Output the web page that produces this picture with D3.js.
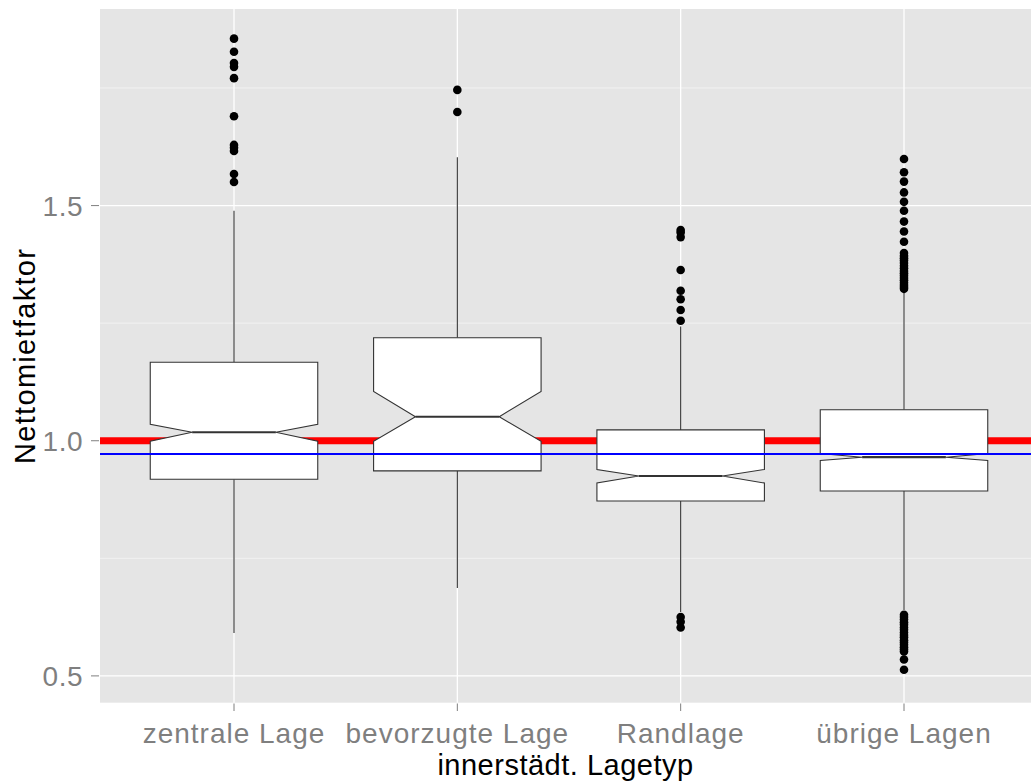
<!DOCTYPE html>
<html>
<head>
<meta charset="utf-8">
<script src="https://cdn.jsdelivr.net/npm/d3@7"></script>
<style>
  body { margin: 0; background: #fff; }
  text { font-family: "Liberation Sans", Arial, sans-serif; }
</style>
</head>
<body>
<svg id="chart" width="1031" height="782"></svg>
<script>
// categories and box statistics
const categories = ["zentrale Lage", "bevorzugte Lage", "Randlage", "übrige Lagen"];
const whiskerLow  = [0.591, 0.687, 0.636, 0.640];
const q1          = [0.918, 0.936, 0.872, 0.893];
const notchLow    = [0.999, 0.999, 0.910, 0.958];
const median      = [1.018, 1.051, 0.925, 0.965];
const notchHigh   = [1.035, 1.105, 0.939, 0.973];
const q3          = [1.167, 1.219, 1.023, 1.066];
const whiskerHigh = [1.489, 1.603, 1.243, 1.318];
const outliers = [
  [1.855, 1.827, 1.803, 1.795, 1.771, 1.690, 1.629, 1.623, 1.616, 1.567, 1.550],
  [1.746, 1.699],
  [1.448, 1.443, 1.433, 1.363, 1.319, 1.301, 1.278, 1.255, 0.625, 0.615, 0.603],
  [1.599, 1.571, 1.551, 1.528, 1.508, 1.489, 1.466, 1.445, 1.423, 1.399,
   1.393, 1.388, 1.383, 1.378, 1.372, 1.367, 1.361, 1.356, 1.351, 1.346,
   1.341, 1.336, 1.331, 1.327, 1.323,
   0.630, 0.625, 0.620, 0.614, 0.609, 0.603, 0.598, 0.592, 0.587, 0.582,
   0.576, 0.571, 0.566, 0.561, 0.556, 0.552, 0.535, 0.513]
];
const yTicks = [0.5, 1.0, 1.5];
const yMinor = [0.75, 1.25, 1.75];
const refLine = 1.0;
const meanLine = 0.972;

const svg = d3.select("#chart");
const panel = { left: 100, right: 1038, top: 9, bottom: 702.7 };

const x = d3.scalePoint()
  .domain(categories)
  .range([panel.left, panel.right])
  .padding(0.6);

const y = d3.scaleLinear()
  .domain([0.443, 1.918])
  .range([panel.bottom, panel.top]);

const boxW = x.step() * 0.75;

// panel background
svg.append("rect")
  .attr("x", panel.left).attr("y", panel.top)
  .attr("width", panel.right - panel.left)
  .attr("height", panel.bottom - panel.top)
  .attr("fill", "#e5e5e5");

// minor grid
svg.append("g").selectAll("line")
  .data(yMinor)
  .join("line")
  .attr("x1", panel.left).attr("x2", panel.right)
  .attr("y1", d => y(d)).attr("y2", d => y(d))
  .attr("stroke", "#f2f2f2").attr("stroke-width", 1);

// major grid
svg.append("g").selectAll("line")
  .data(yTicks)
  .join("line")
  .attr("x1", panel.left).attr("x2", panel.right)
  .attr("y1", d => y(d)).attr("y2", d => y(d))
  .attr("stroke", "#fff").attr("stroke-width", 1.3);

svg.append("g").selectAll("line")
  .data(categories)
  .join("line")
  .attr("x1", d => x(d)).attr("x2", d => x(d))
  .attr("y1", panel.top).attr("y2", panel.bottom)
  .attr("stroke", "#fff").attr("stroke-width", 1.3);

// red reference line (behind the boxes)
svg.append("line")
  .attr("x1", panel.left).attr("x2", panel.right)
  .attr("y1", y(refLine)).attr("y2", y(refLine))
  .attr("stroke", "#ff0000").attr("stroke-width", 7);

// boxes
const boxes = svg.append("g");
categories.forEach((c, i) => {
  const cx = x(c);
  const x0 = cx - boxW / 2, x1 = cx + boxW / 2;
  const n0 = cx - boxW / 4, n1 = cx + boxW / 4;

  boxes.append("line")
    .attr("x1", cx).attr("x2", cx)
    .attr("y1", y(q3[i])).attr("y2", y(whiskerHigh[i]))
    .attr("stroke", "#333").attr("stroke-width", 1.1);
  boxes.append("line")
    .attr("x1", cx).attr("x2", cx)
    .attr("y1", y(q1[i])).attr("y2", y(whiskerLow[i]))
    .attr("stroke", "#333").attr("stroke-width", 1.1);

  const pts = [
    [x0, y(q3[i])], [x1, y(q3[i])], [x1, y(notchHigh[i])],
    [n1, y(median[i])], [x1, y(notchLow[i])], [x1, y(q1[i])],
    [x0, y(q1[i])], [x0, y(notchLow[i])], [n0, y(median[i])],
    [x0, y(notchHigh[i])]
  ];
  boxes.append("path")
    .attr("d", d3.line()(pts) + "Z")
    .attr("fill", "#fff")
    .attr("stroke", "#333").attr("stroke-width", 1.1);

  boxes.append("line")
    .attr("x1", n0).attr("x2", n1)
    .attr("y1", y(median[i])).attr("y2", y(median[i]))
    .attr("stroke", "#333").attr("stroke-width", 2.2);

  boxes.append("g").selectAll("circle")
    .data(outliers[i])
    .join("circle")
    .attr("cx", cx).attr("cy", d => y(d))
    .attr("r", 4.3)
    .attr("fill", "#000");
});

// blue line on top
svg.append("line")
  .attr("x1", panel.left).attr("x2", panel.right)
  .attr("y1", y(meanLine)).attr("y2", y(meanLine))
  .attr("stroke", "#0000ff").attr("stroke-width", 2);

// y axis
const yAxis = svg.append("g");
yAxis.selectAll("line")
  .data(yTicks)
  .join("line")
  .attr("x1", 91).attr("x2", 99)
  .attr("y1", d => y(d)).attr("y2", d => y(d))
  .attr("stroke", "#7f7f7f").attr("stroke-width", 1);
yAxis.selectAll("text")
  .data(yTicks)
  .join("text")
  .attr("x", 83).attr("y", d => y(d))
  .attr("dy", "0.36em")
  .attr("text-anchor", "end")
  .attr("font-size", 28)
  .attr("letter-spacing", 0.5)
  .attr("fill", "#7f7f7f")
  .text(d3.format(".1f"));

// x axis
const xAxis = svg.append("g");
xAxis.selectAll("line")
  .data(categories)
  .join("line")
  .attr("x1", d => x(d)).attr("x2", d => x(d))
  .attr("y1", 703.5).attr("y2", 711)
  .attr("stroke", "#7f7f7f").attr("stroke-width", 1);
xAxis.selectAll("text")
  .data(categories)
  .join("text")
  .attr("x", d => x(d)).attr("y", 743)
  .attr("text-anchor", "middle")
  .attr("font-size", 28)
  .attr("letter-spacing", 1)
  .attr("fill", "#7f7f7f")
  .text(d => d);

// axis titles
svg.append("text")
  .attr("x", (panel.left + 1031) / 2).attr("y", 775)
  .attr("text-anchor", "middle")
  .attr("font-size", 29)
  .attr("letter-spacing", 0.5)
  .attr("fill", "#000")
  .text("innerstädt. Lagetyp");

svg.append("text")
  .attr("transform", `translate(35,${(panel.top + panel.bottom) / 2}) rotate(-90)`)
  .attr("text-anchor", "middle")
  .attr("font-size", 29)
  .attr("letter-spacing", 1.3)
  .attr("fill", "#000")
  .text("Nettomietfaktor");
</script>
</body>
</html>
